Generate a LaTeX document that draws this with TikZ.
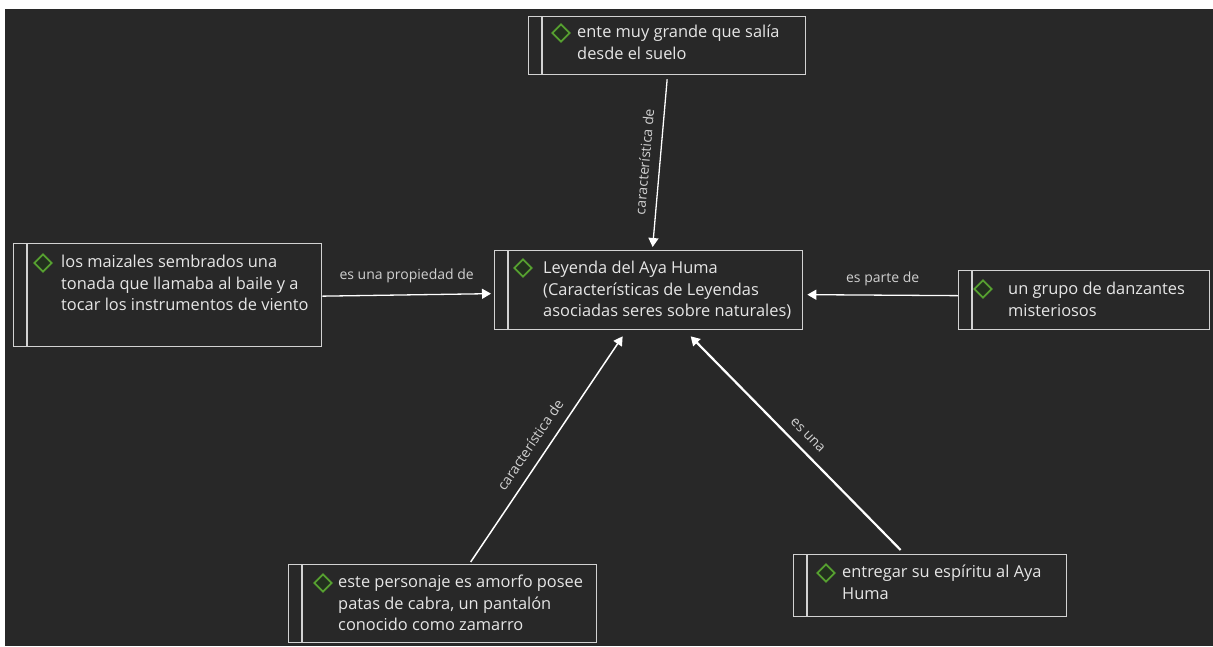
\documentclass[tikz,border=0pt]{standalone}
\usepackage{fontspec}
\setmainfont{Open Sans}
\usetikzlibrary{arrows.meta,shapes.geometric,calc}
\definecolor{bg}{HTML}{282828}
\definecolor{edgec}{HTML}{D2D2D2}
\definecolor{txt}{HTML}{E6E6E6}
\definecolor{lblc}{HTML}{D0D0D0}
\definecolor{gemline}{HTML}{56A030}
\definecolor{gemfill}{HTML}{22301E}
\begin{document}
\begin{tikzpicture}[x=1pt,y=-1pt,
  conbox/.style={draw=edgec, line width=1.3pt, rectangle, inner sep=0pt, anchor=north west},
  gem/.style={diamond, draw=gemline, fill=gemfill, line width=1.8pt, minimum width=18pt, minimum height=18pt, inner sep=0pt},
  ctext/.style={anchor=north west, inner sep=0pt, align=left, text=txt, font=\fontsize{16.4}{21.5}\selectfont},
  rel/.style={draw=white, line width=1.3pt, -{Triangle[width=10pt,length=9pt]}},
  rlabel/.style={text=lblc, font=\fontsize{14}{16}\selectfont, inner sep=0pt}
]
\useasboundingbox (0,0) rectangle (1213,646);
\fill[white] (0,0) rectangle (1213,646);
\fill[bg] (5,9) rectangle (1213,646);

% boxes
\node[conbox, minimum width=277pt, minimum height=58pt] (top) at (528,16) {};
\node[conbox, minimum width=308pt, minimum height=79pt] (cen) at (494,250) {};
\node[conbox, minimum width=308pt, minimum height=103pt] (lft) at (13,243) {};
\node[conbox, minimum width=251pt, minimum height=59pt] (rgt) at (958,270) {};
\node[conbox, minimum width=308pt, minimum height=78pt] (bl) at (288,564) {};
\node[conbox, minimum width=273pt, minimum height=62pt] (br) at (793,554) {};

\foreach \b in {top,cen,lft,rgt,bl,br}
  \draw[edgec, line width=1.3pt] ([xshift=14pt]\b.north west) -- ([xshift=14pt]\b.south west);

% diamonds
\node[gem] (topg) at (561,33) {};
\node[gem] (ceng) at (523,268) {};
\node[gem] (lftg) at (43,263) {};
\node[gem] (rgtg) at (983,289) {};
\node[gem] (blg) at (323,583) {};
\node[gem] (brg) at (826,573) {};

% texts
\node[ctext] (topt) at (577,23.4) {\rule{0pt}{14pt}ente muy grande que salía\\desde el suelo};
\node[ctext] (cent) at (543,259.4) {\rule{0pt}{14pt}Leyenda del Aya Huma\\(Características de Leyendas\\asociadas seres sobre naturales)};
\node[ctext] (lftt) at (61,253.4) {\rule{0pt}{14pt}los maizales sembrados una\\tonada que llamaba al baile y a\\tocar los instrumentos de viento};
\node[ctext] (rgtt) at (1008,280.4) {\rule{0pt}{14pt}un grupo de danzantes\\misteriosos};
\node[ctext] (blt) at (338,573.4) {\rule{0pt}{14pt}este personaje es amorfo posee\\patas de cabra, un pantalón\\conocido como zamarro};
\node[ctext] (brt) at (842,563.4) {\rule{0pt}{14pt}entregar su espíritu al Aya\\Huma};

% connectors
\draw[rel] ([yshift=-4pt]top.south) -- ([xshift=4pt,yshift=3pt]cen.north)
  node[rlabel, midway, sloped, above=9.5pt] {característica de};
\draw[rel] ([yshift=-1pt]lft.east) -- ([xshift=-3pt,yshift=-3.5pt]cen.west)
  node[rlabel, midway, above=11.5pt] {es una propiedad de};
\draw[rel] ([yshift=4.5pt]rgt.west) -- ([xshift=4pt,yshift=-4.5pt]cen.east)
  node[rlabel, midway, above=8.5pt] {es parte de};
\draw[rel, line width=1.5pt] ([xshift=28pt,yshift=2pt]bl.north) -- ([xshift=-26pt,yshift=-6pt]cen.south)
  node[rlabel, pos=0.48, sloped, above=10pt] {característica de};
\draw[rel, line width=2.2pt] ([xshift=-29.5pt,yshift=4pt]br.north) -- ([xshift=42pt,yshift=-6pt]cen.south)
  node[rlabel, pos=0.49, sloped, above=9pt] {es una};
\end{tikzpicture}
\end{document}
